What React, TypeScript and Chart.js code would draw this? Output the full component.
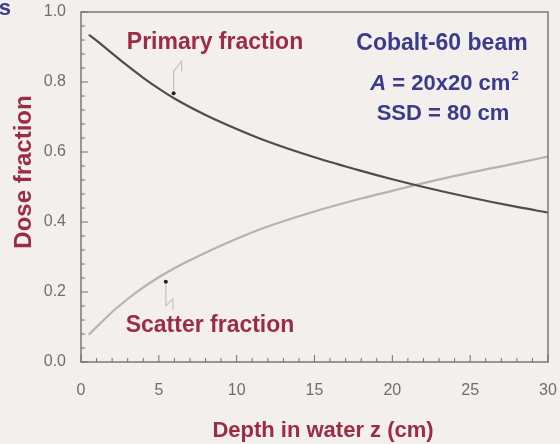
import React, { useEffect, useRef } from "react";
import { Chart, registerables } from "chart.js";

Chart.register(...registerables);

const depths = [0.5, 1, 2, 3, 4, 5, 6, 8, 10, 12, 15, 18, 20, 22, 25, 28, 30];
const primaryFraction = [0.935, 0.918, 0.882, 0.846, 0.812, 0.781, 0.753, 0.706, 0.666, 0.63, 0.585, 0.546, 0.522, 0.5, 0.47, 0.443, 0.427];
const scatterFraction = [0.078, 0.1, 0.143, 0.18, 0.213, 0.242, 0.268, 0.312, 0.352, 0.387, 0.43, 0.467, 0.489, 0.511, 0.541, 0.568, 0.587];
const xTickValues = [0, 5, 10, 15, 20, 25, 30];
const yTickValues = [0, 0.2, 0.4, 0.6, 0.8, 1.0];
const xMinorStep = 1;
const yMinorStep = 0.04;

const BG = "#f2efec";
const RED = "#9c2c45";
const NAVY = "#3b3b8c";
const AXIS = "#7a7a7a";
const TICK_TEXT = "#6e6e6e";
const FONT = "Arial, 'Liberation Sans', sans-serif";

const decorPlugin = {
  id: "decor",
  beforeDraw(chart: any) {
    const ctx = chart.ctx;
    ctx.save();
    ctx.fillStyle = BG;
    ctx.fillRect(0, 0, chart.width, chart.height);
    ctx.restore();
  },
  afterDraw(chart: any) {
    const ctx = chart.ctx;
    const ca = chart.chartArea;
    const xs = chart.scales.x;
    const ys = chart.scales.y;
    ctx.save();
    // frame
    ctx.strokeStyle = AXIS;
    ctx.lineWidth = 1.5;
    ctx.strokeRect(ca.left, ca.top, ca.right - ca.left, ca.bottom - ca.top);
    // inward ticks
    ctx.lineWidth = 1;
    ctx.strokeStyle = "#6f6f6f";
    for (let v = 0; v <= 30 + 1e-9; v += xMinorStep) {
      const px = xs.getPixelForValue(v);
      const major = Math.abs(v / 5 - Math.round(v / 5)) < 1e-6;
      const len = major ? 7 : 4;
      ctx.beginPath();
      ctx.moveTo(px, ca.bottom);
      ctx.lineTo(px, ca.bottom - len);
      ctx.stroke();
    }
    for (let i = 0; i <= Math.round(1 / yMinorStep); i++) {
      const v = i * yMinorStep;
      const py = ys.getPixelForValue(v);
      const major = i % 5 === 0;
      const len = major ? 7 : 4;
      ctx.beginPath();
      ctx.moveTo(ca.left, py);
      ctx.lineTo(ca.left + len, py);
      ctx.stroke();
    }

    // tick labels
    ctx.fillStyle = TICK_TEXT;
    ctx.font = `16px ${FONT}`;
    ctx.textBaseline = "middle";
    ctx.textAlign = "center";
    xTickValues.forEach((v) => {
      ctx.fillText(String(v), xs.getPixelForValue(v), ca.bottom + 29);
    });
    ctx.textAlign = "right";
    yTickValues.forEach((v) => {
      ctx.fillText(v.toFixed(1), ca.left - 15, ys.getPixelForValue(v));
    });

    // annotation arrows
    const drawArrow = (xv: number, yv: number, dir: number) => {
      const px = xs.getPixelForValue(xv);
      const py = ys.getPixelForValue(yv);
      ctx.strokeStyle = "#c4c4c4";
      ctx.lineWidth = 1.2;
      ctx.beginPath();
      if (dir < 0) {
        ctx.moveTo(px, py - 3);
        ctx.lineTo(px, py - 22);
        ctx.lineTo(px + 8, py - 32);
        ctx.lineTo(px + 8, py - 22);
      } else {
        ctx.moveTo(px, py + 3);
        ctx.lineTo(px, py + 24);
        ctx.lineTo(px + 7, py + 17);
        ctx.lineTo(px + 7, py + 28);
      }
      ctx.stroke();
      ctx.fillStyle = "#222";
      ctx.beginPath();
      ctx.arc(px, py, 2, 0, Math.PI * 2);
      ctx.fill();
    };
    drawArrow(5.95, 0.768, -1);
    drawArrow(5.45, 0.229, 1);

    // texts
    ctx.textBaseline = "middle";
    ctx.textAlign = "center";
    ctx.fillStyle = RED;
    ctx.font = `bold 23px ${FONT}`;
    ctx.fillText("Primary fraction", 215, 43);
    ctx.fillText("Scatter fraction", 210, 326);
    ctx.font = `bold 22px ${FONT}`;
    ctx.fillText("Depth in water z (cm)", 323, 431);
    ctx.save();
    ctx.translate(24, 172);
    ctx.rotate(-Math.PI / 2);
    ctx.font = `bold 24px ${FONT}`;
    ctx.fillText("Dose fraction", 0, 0);
    ctx.restore();

    ctx.fillStyle = NAVY;
    ctx.font = `bold 23px ${FONT}`;
    ctx.fillText("Cobalt-60 beam", 442, 44);
    ctx.font = `bold 22px ${FONT}`;
    ctx.fillText("SSD = 80 cm", 443, 114);
    // A = 20x20 cm²
    ctx.textAlign = "left";
    const partA = "A";
    const partB = " = 20x20 cm";
    ctx.font = `italic bold 22px ${FONT}`;
    const wA = ctx.measureText(partA).width;
    ctx.font = `bold 22px ${FONT}`;
    const wB = ctx.measureText(partB).width;
    ctx.font = `bold 13px ${FONT}`;
    const wC = ctx.measureText("2").width;
    const x0 = 444 - (wA + wB + wC) / 2;
    ctx.font = `italic bold 22px ${FONT}`;
    ctx.fillText(partA, x0, 84);
    ctx.font = `bold 22px ${FONT}`;
    ctx.fillText(partB, x0 + wA, 84);
    ctx.font = `bold 13px ${FONT}`;
    ctx.fillText("2", x0 + wA + wB + 1, 76);

    // cropped letter at top-left corner
    ctx.font = `bold 22px ${FONT}`;
    ctx.textAlign = "right";
    ctx.fillText("s", 11, 9);
    ctx.restore();
  },
};

export default function App() {
  const ref = useRef<HTMLCanvasElement | null>(null);
  useEffect(() => {
    if (!ref.current) return;
    const chart = new Chart(ref.current, {
      type: "line",
      data: {
        datasets: [
          {
            label: "Primary fraction",
            data: depths.map((d, i) => ({ x: d, y: primaryFraction[i] })),
            borderColor: "#4d4d4d",
            borderWidth: 2.2,
            pointRadius: 0,
            cubicInterpolationMode: "monotone",
            fill: false,
          },
          {
            label: "Scatter fraction",
            data: depths.map((d, i) => ({ x: d, y: scatterFraction[i] })),
            borderColor: "#b3b3b3",
            borderWidth: 2.2,
            pointRadius: 0,
            cubicInterpolationMode: "monotone",
            fill: false,
          },
        ],
      },
      options: {
        animation: false,
        responsive: true,
        maintainAspectRatio: false,
        layout: { padding: { top: 12, right: 12, left: 0, bottom: 0 } },
        plugins: { legend: { display: false }, tooltip: { enabled: false } },
        scales: {
          x: {
            type: "linear",
            min: 0,
            max: 30,
            afterBuildTicks: (s: any) => {
              s.ticks = xTickValues.map((v) => ({ value: v }));
            },
            afterFit: (s: any) => {
              s.height = 82;
            },
            grid: { display: false },
            border: { display: false },
            ticks: { display: false },
          },
          y: {
            min: 0,
            max: 1,
            afterBuildTicks: (s: any) => {
              s.ticks = yTickValues.map((v) => ({ value: v }));
            },
            afterFit: (s: any) => {
              s.width = 81;
            },
            grid: { display: false },
            border: { display: false },
            ticks: { display: false },
          },
        },
      },
      plugins: [decorPlugin],
    } as any);
    return () => chart.destroy();
  }, []);
  return (
    <div style={{ position: "fixed", left: 0, top: 0, width: 560, height: 444, background: BG }}>
      <canvas ref={ref} />
    </div>
  );
}
